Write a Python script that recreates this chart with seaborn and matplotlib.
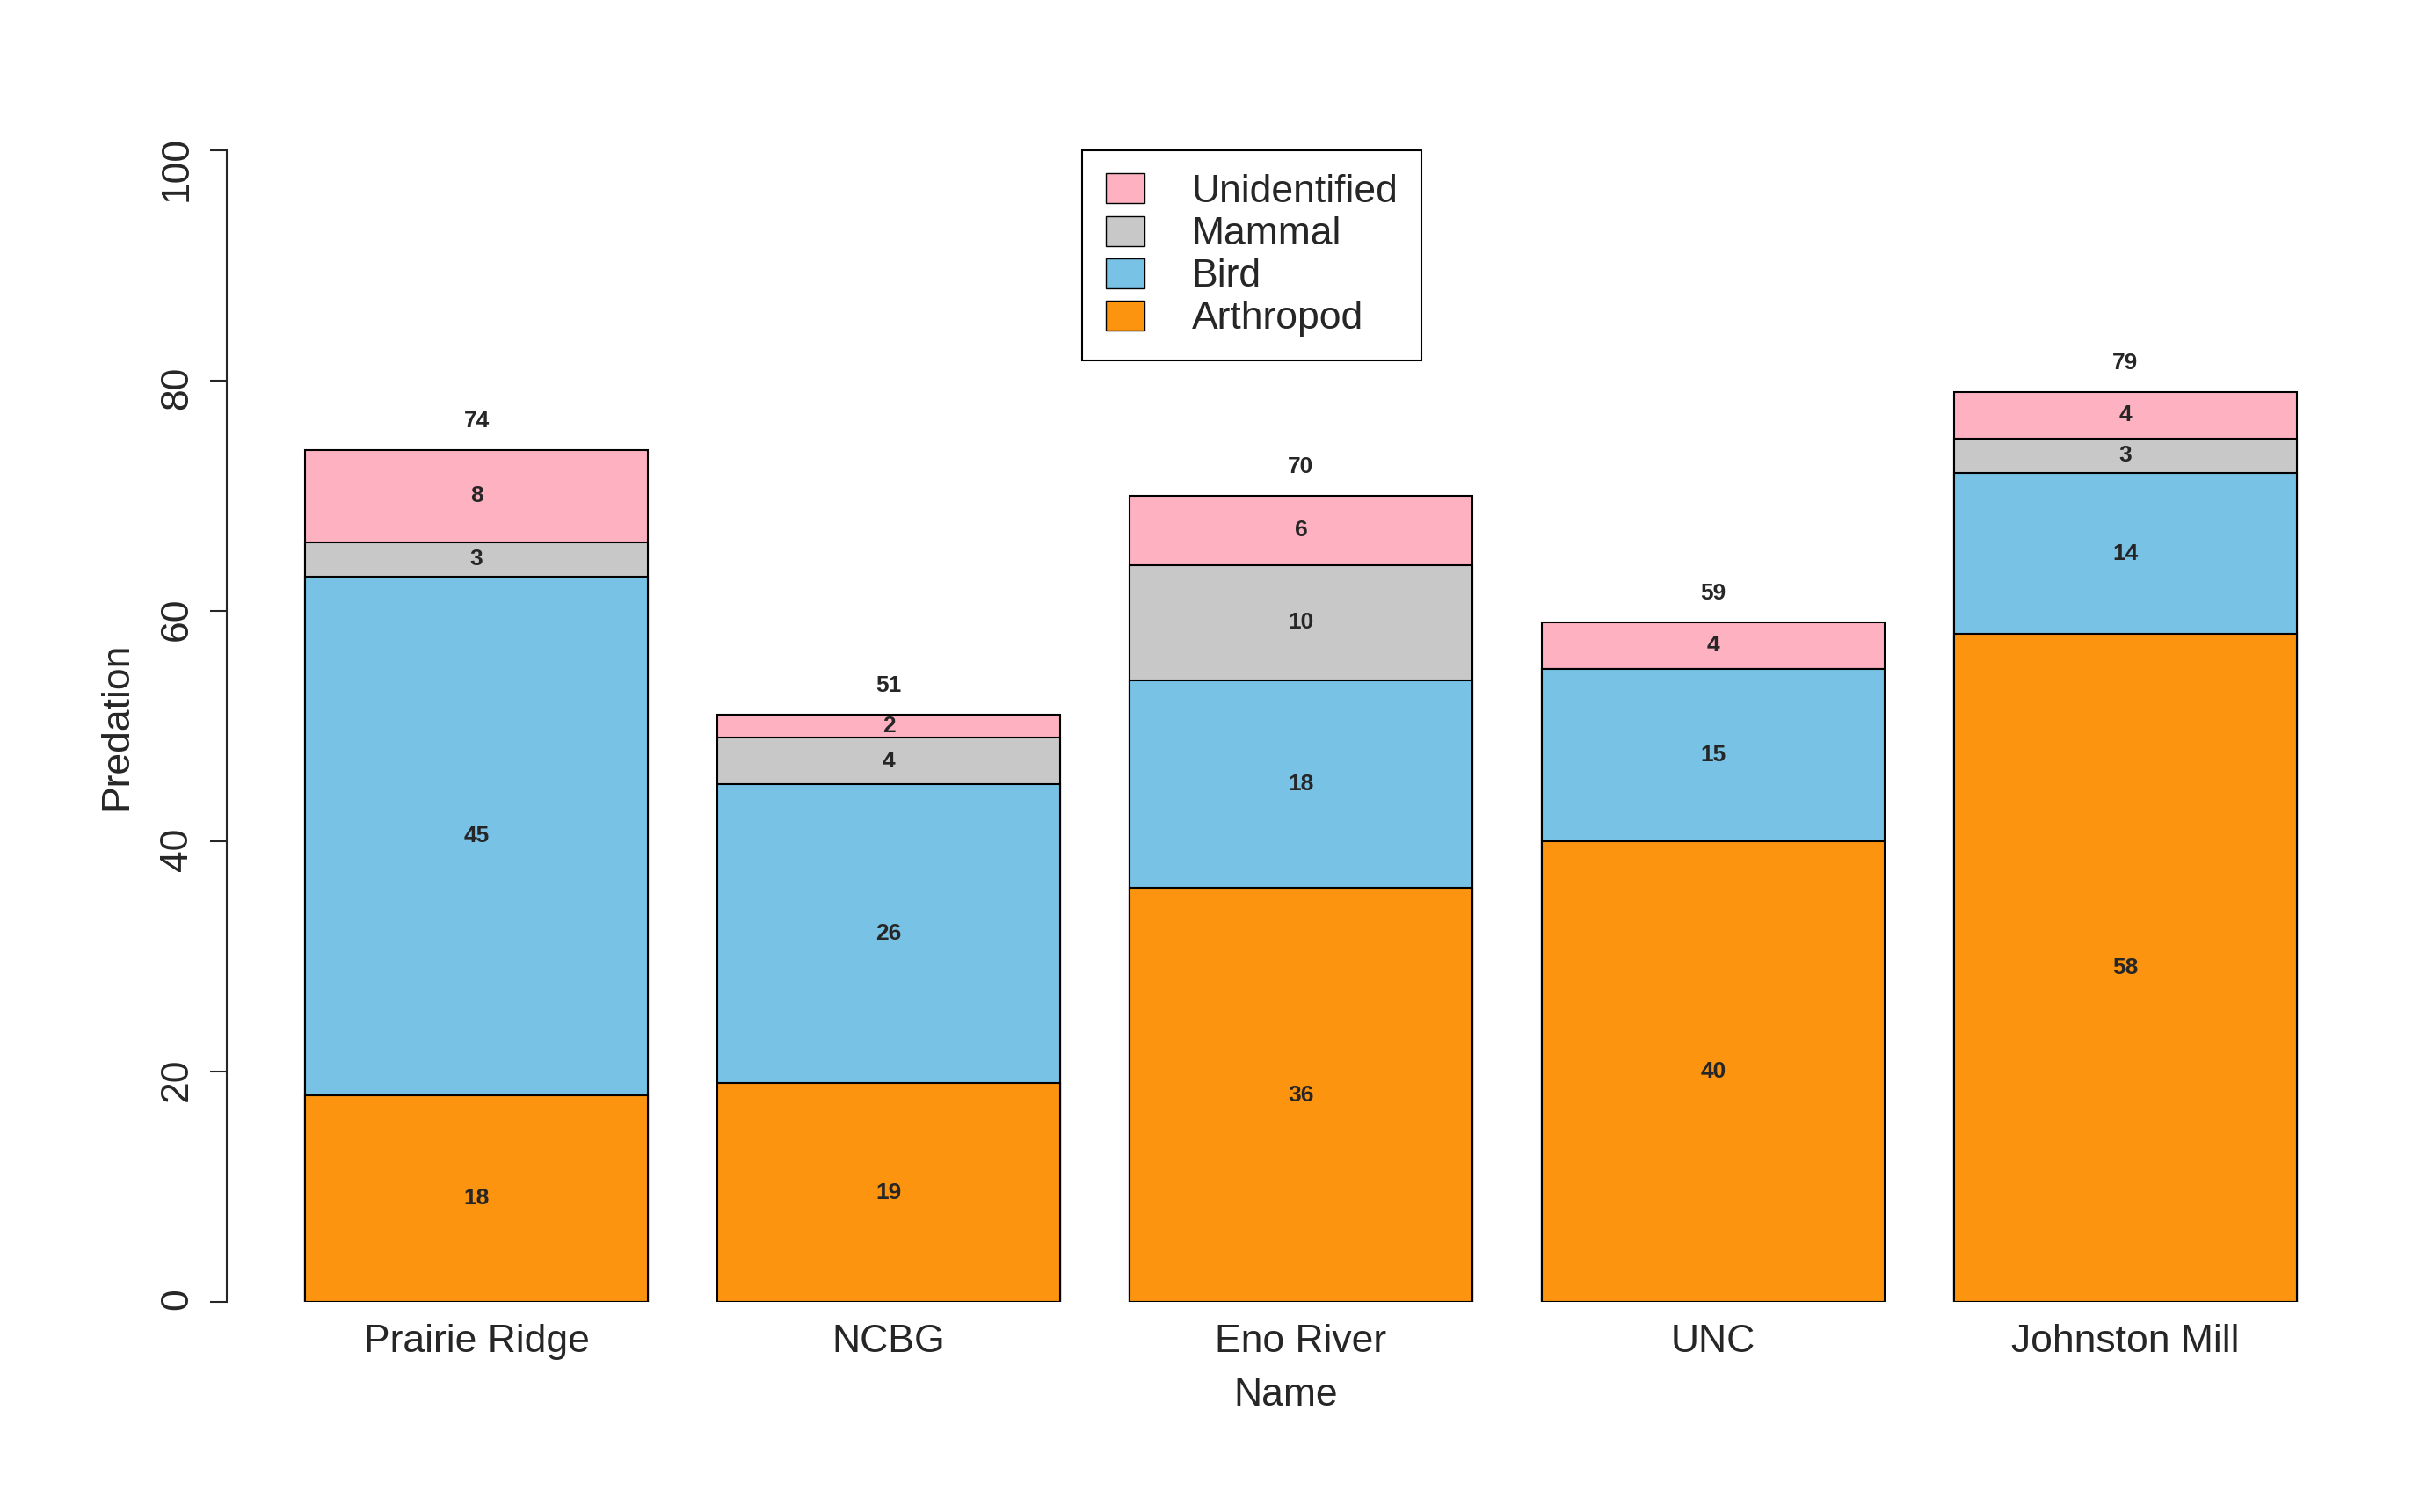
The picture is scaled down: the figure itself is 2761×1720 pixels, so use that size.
import numpy as np
import pandas as pd
import matplotlib
matplotlib.use("Agg")
import matplotlib.pyplot as plt
import matplotlib.patches as mpatches
import seaborn as sns

sites = ["Prairie Ridge", "NCBG", "Eno River", "UNC", "Johnston Mill"]
arthropod = [18, 19, 36, 40, 58]
bird = [45, 26, 18, 15, 14]
mammal = [3, 4, 10, 0, 3]
unidentified = [8, 2, 6, 4, 4]

groups = ["Arthropod", "Bird", "Mammal", "Unidentified"]
colors = ["#FC940F", "#77C2E5", "#C8C8C8", "#FDB1C1"]

sns.set_style("white")
plt.rcParams["font.family"] = ["Liberation Sans", "DejaVu Sans"]

df = pd.DataFrame({"Name": sites, "Arthropod": arthropod, "Bird": bird,
                   "Mammal": mammal, "Unidentified": unidentified})
cum = df[groups].cumsum(axis=1)

fig = plt.figure(figsize=(27.61, 17.2), dpi=100)
ax = fig.add_axes([0.0934, 0.1387, 0.873, 0.7619])

# draw cumulative bars from tallest to shortest so each layer shows
for g, c in reversed(list(zip(groups, colors))):
    sns.barplot(x=df["Name"], y=cum[g], color=c, edgecolor="black", linewidth=1.5,
                width=0.833, saturation=1, ax=ax, order=sites)

for i in range(len(sites)):
    base = 0
    for g in groups:
        v = df[g].iloc[i]
        if v > 0:
            ax.text(i, base + v / 2, str(v), ha="center", va="center",
                    fontsize=19, fontweight="bold")
        base += v
    ax.text(i, base + 2.5, str(base), ha="center", va="center",
            fontsize=19, fontweight="bold")

ax.set_xlim(-0.606, 4.534)
ax.set_ylim(0, 100)
ax.set_yticks([0, 20, 40, 60, 80, 100])
ax.tick_params(axis="y", labelsize=32, length=14, width=1.5, pad=12, left=True,
               labelrotation=90)
for lab in ax.get_yticklabels():
    lab.set_va("center")
ax.tick_params(axis="x", labelsize=32, length=0, pad=18)
for s in ["top", "right", "bottom"]:
    ax.spines[s].set_visible(False)
ax.spines["left"].set_linewidth(1.5)
ax.spines["left"].set_position(("data", -0.606))
ax.set_ylabel("Predation", fontsize=32, labelpad=20)
ax.set_xlabel("Name", fontsize=32, labelpad=14)

handles = [mpatches.Patch(facecolor=c, edgecolor="black", label=g)
           for g, c in zip(groups, colors)][::-1]
leg = fig.legend(handles=handles, loc="upper left", bbox_to_anchor=(0.4459, 0.9007),
                 fontsize=32, frameon=True, fancybox=False, edgecolor="black",
                 framealpha=1, borderaxespad=0, handlelength=1.0, handleheight=0.8,
                 labelspacing=0.15, borderpad=0.6, handletextpad=1.2)
leg.get_frame().set_linewidth(1.5)

fig.savefig("out.png", dpi=100)
